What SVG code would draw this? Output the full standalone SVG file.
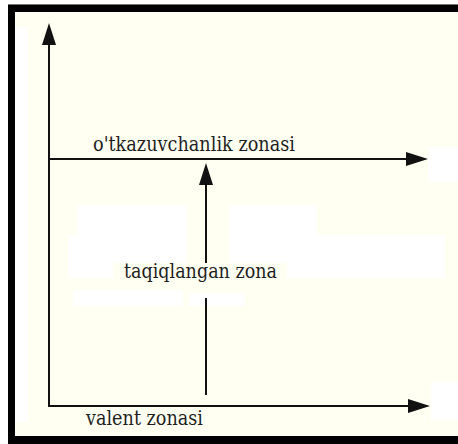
<svg xmlns="http://www.w3.org/2000/svg" width="458" height="444" viewBox="0 0 458 444">
  <style>
    .ax { stroke: #111; stroke-width: 2; fill: none; }
    .lbl { font-family: 'DejaVu Serif', 'Liberation Serif', serif; font-size: 20px; fill: #1e1e1e; }
    .patch { fill: #ffffff; }
  </style>
  <defs>
    <marker id="arr" markerUnits="userSpaceOnUse" markerWidth="24" markerHeight="16" refX="4" refY="7" orient="auto">
      <path d="M0,0 L22,7 L0,14 Z" fill="#111"/>
    </marker>
  </defs>
  <g id="frame">
    <rect x="0" y="0" width="458" height="444" fill="#ffffff"/>
    <rect x="8" y="4" width="460" height="450" fill="#000000"/>
    <rect x="8" y="4" width="460" height="1" fill="#777777"/>
    <rect x="15" y="12" width="443" height="424" fill="#fffff2"/>
    <rect class="patch" x="15" y="27" width="13" height="395"/>
    <rect class="patch" x="428" y="147" width="30" height="35"/>
    <rect class="patch" x="431" y="382" width="27" height="38"/>
    <rect class="patch" x="77" y="205" width="110" height="30"/>
    <rect class="patch" x="68" y="235" width="119" height="28"/>
    <rect class="patch" x="68" y="263" width="45" height="15"/>
    <rect class="patch" x="73" y="290" width="110" height="16"/>
    <rect class="patch" x="229" y="205" width="88" height="30"/>
    <rect class="patch" x="229" y="235" width="216" height="28"/>
    <rect class="patch" x="287" y="263" width="158" height="15"/>
    <rect class="patch" x="189" y="293" width="56" height="13"/>
  </g>
  <g id="connectors">
    <line class="ax" x1="49" y1="406" x2="49" y2="41" marker-end="url(#arr)"/>
    <line class="ax" x1="48" y1="406" x2="412" y2="406" marker-end="url(#arr)"/>
    <line class="ax" x1="48" y1="159" x2="410" y2="159" marker-end="url(#arr)"/>
    <line class="ax" x1="206" y1="263" x2="206" y2="181" marker-end="url(#arr)"/>
    <line class="ax" x1="206" y1="298" x2="206" y2="395"/>
  </g>
  <g id="conduction-zone">
    <text class="lbl" x="93" y="151" textLength="202" lengthAdjust="spacingAndGlyphs">o'tkazuvchanlik zonasi</text>
  </g>
  <g id="forbidden-zone">
    <text class="lbl" x="124" y="278" textLength="153" lengthAdjust="spacingAndGlyphs">taqiqlangan zona</text>
  </g>
  <g id="valence-zone">
    <text class="lbl" x="86" y="425" textLength="117" lengthAdjust="spacingAndGlyphs">valent zonasi</text>
  </g>
</svg>
